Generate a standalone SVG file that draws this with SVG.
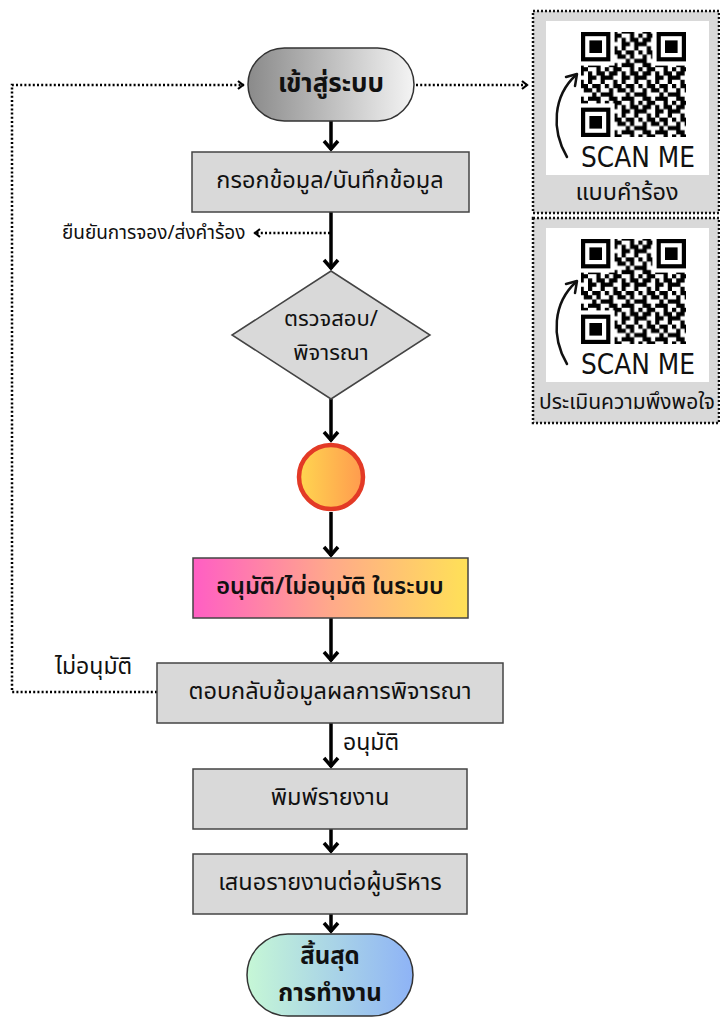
<svg xmlns="http://www.w3.org/2000/svg" width="720" height="1018" viewBox="0 0 720 1018">
<style>
text{font-family:"Noto Sans Thai","Noto Sans","DejaVu Sans",sans-serif;fill:#111;text-anchor:middle;dominant-baseline:central}
.box{fill:#d9d9d9;stroke:#444;stroke-width:1.5}
.lbl{font-size:23.5px}
.bold{font-weight:bold;font-size:24px}
.side{font-size:19px;text-anchor:start}
.solid{stroke:#000;stroke-width:3.5;fill:none;marker-end:url(#ah)}
.dot{stroke:#000;stroke-width:2.5;stroke-dasharray:2 2.2;fill:none}
.qrbox{fill:#d9d9d9;stroke:#111;stroke-width:2.5;stroke-dasharray:2 2}
.scan{font-family:"DejaVu Sans Condensed","DejaVu Sans",sans-serif;font-size:29px;font-weight:normal}
</style>
<defs>
<marker id="ah" markerUnits="userSpaceOnUse" markerWidth="20" markerHeight="20" refX="1" refY="0" viewBox="-12 -10 16 20" orient="auto">
<path d="M-8,-7 L0,0 L-8,7" fill="none" stroke="#000" stroke-width="3.5"/>
</marker>
<marker id="dh" markerUnits="userSpaceOnUse" markerWidth="12" markerHeight="12" refX="1" refY="0" viewBox="-8 -6 10 12" orient="auto">
<path d="M-5,-4 L0,0 L-5,4" fill="none" stroke="#000" stroke-width="2.2"/>
</marker>
<linearGradient id="gStart" x1="0" y1="0" x2="1" y2="0"><stop offset="0" stop-color="#8a8a8a"/><stop offset="1" stop-color="#f4f4f4"/></linearGradient>
<linearGradient id="gEnd" x1="0" y1="0" x2="1" y2="0"><stop offset="0" stop-color="#c6f7d6"/><stop offset="1" stop-color="#8eb3f6"/></linearGradient>
<linearGradient id="gBar" x1="0" y1="0" x2="1" y2="0"><stop offset="0" stop-color="#ff5ec4"/><stop offset="0.5" stop-color="#ffa98a"/><stop offset="1" stop-color="#ffe157"/></linearGradient>
<linearGradient id="gCirc" x1="0" y1="0" x2="1" y2="0"><stop offset="0" stop-color="#ffd650"/><stop offset="1" stop-color="#ff9a4e"/></linearGradient>
<pattern id="qrp" patternUnits="userSpaceOnUse" width="33.6" height="33.6">
<path transform="scale(4.2)" fill="#000" d="M0 0h1v1h-1z M2 0h2v1h-2z M6 0h1v1h-1z M1 1h2v1h-2z M4 1h1v1h-1z M6 1h2v1h-2z M0 2h2v1h-2z M4 2h2v1h-2z M7 2h1v1h-1z M2 3h1v1h-1z M4 3h1v1h-1z M7 3h1v1h-1z M0 4h1v1h-1z M2 4h2v1h-2z M5 4h2v1h-2z M1 5h1v1h-1z M3 5h2v1h-2z M6 5h1v1h-1z M0 6h2v1h-2z M5 6h1v1h-1z M7 6h1v1h-1z M1 7h2v1h-2z M4 7h3v1h-3z"/>
</pattern>
<g id="qr">
<rect x="546" y="21" width="163" height="154" fill="#fff"/>
<rect x="581" y="32" width="105" height="105" fill="url(#qrp)"/>
<rect x="581" y="32" width="33.6" height="33.6" fill="#fff"/>
<rect x="581" y="32" width="29.4" height="29.4" fill="#000"/>
<rect x="585.2" y="36.2" width="21" height="21" fill="#fff"/>
<rect x="589.4" y="40.4" width="12.6" height="12.6" fill="#000"/>
<rect x="652.4" y="32" width="33.6" height="33.6" fill="#fff"/>
<rect x="656.6" y="32" width="29.4" height="29.4" fill="#000"/>
<rect x="660.8" y="36.2" width="21" height="21" fill="#fff"/>
<rect x="665" y="40.4" width="12.6" height="12.6" fill="#000"/>
<rect x="581" y="103.4" width="33.6" height="33.6" fill="#fff"/>
<rect x="581" y="107.6" width="29.4" height="29.4" fill="#000"/>
<rect x="585.2" y="111.8" width="21" height="21" fill="#fff"/>
<rect x="589.4" y="116" width="12.6" height="12.6" fill="#000"/>
<path d="M567 157 C551 130 553 96 576 75" fill="none" stroke="#111" stroke-width="2.5" stroke-linecap="round"/>
<path d="M566 77 L577 74 L575 86" fill="none" stroke="#111" stroke-width="2.5" stroke-linecap="round" stroke-linejoin="round"/>
<text class="scan" x="638" y="157" textLength="114" lengthAdjust="spacingAndGlyphs">SCAN ME</text>
</g>
</defs>

<g id="connectors">
<line class="solid" x1="331" y1="121" x2="331" y2="150"/>
<line class="solid" x1="331" y1="212" x2="331" y2="269"/>
<line class="solid" x1="331" y1="399" x2="331" y2="441"/>
<line class="solid" x1="331" y1="512" x2="331" y2="556"/>
<line class="solid" x1="331" y1="618" x2="331" y2="661"/>
<line class="solid" x1="331" y1="723" x2="331" y2="767"/>
<line class="solid" x1="331" y1="829" x2="331" y2="852"/>
<line class="solid" x1="331" y1="914" x2="331" y2="932"/>
<path class="dot" d="M330 233 H254" marker-end="url(#dh)"/>
<path class="dot" d="M157 692 H12 V85 H244" marker-end="url(#dh)"/>
<path class="dot" d="M416 85 H528" marker-end="url(#dh)"/>
<text class="side" x="62" y="233">ยืนยันการจอง/ส่งคำร้อง</text>
<text class="side" x="55" y="667" style="font-size:23px">ไม่อนุมัติ</text>
<text class="side" x="343" y="743" style="font-size:23px">อนุมัติ</text>
</g>

<g id="start">
<rect x="248" y="48" width="166" height="73" rx="36.5" fill="url(#gStart)" stroke="#333" stroke-width="1.5"/>
<text class="bold" x="331" y="84" style="font-size:26px">เข้าสู่ระบบ</text>
</g>
<g id="input">
<rect class="box" x="192" y="152" width="277" height="60"/>
<text class="lbl" x="330" y="181">กรอกข้อมูล/บันทึกข้อมูล</text>
</g>
<g id="review">
<polygon class="box" points="331,271 430,335 331,399 232,335"/>
<text class="lbl" x="331" y="319" style="font-size:22px">ตรวจสอบ/</text>
<text class="lbl" x="331" y="353" style="font-size:22px">พิจารณา</text>
</g>
<g id="connector-circle">
<circle cx="331" cy="477" r="32" fill="url(#gCirc)" stroke="#e33a26" stroke-width="4.5"/>
</g>
<g id="approve">
<rect x="193" y="558" width="275" height="60" fill="url(#gBar)" stroke="#444" stroke-width="1.5"/>
<text class="lbl" x="330" y="587" style="font-weight:600">อนุมัติ/ไม่อนุมัติ ในระบบ</text>
</g>
<g id="reply">
<rect class="box" x="157" y="663" width="346" height="60"/>
<text class="lbl" x="330" y="692">ตอบกลับข้อมูลผลการพิจารณา</text>
</g>
<g id="print">
<rect class="box" x="193" y="769" width="274" height="60"/>
<text class="lbl" x="330" y="798">พิมพ์รายงาน</text>
</g>
<g id="present">
<rect class="box" x="193" y="854" width="274" height="60"/>
<text class="lbl" x="330" y="883">เสนอรายงานต่อผู้บริหาร</text>
</g>
<g id="end">
<rect x="247" y="934" width="166" height="82" rx="41" fill="url(#gEnd)" stroke="#333" stroke-width="1.5"/>
<text class="bold" x="330" y="957">สิ้นสุด</text>
<text class="bold" x="330" y="994">การทำงาน</text>
</g>
<g id="qr-request">
<rect class="qrbox" x="533" y="11" width="186" height="202"/>
<use href="#qr"/>
<text class="lbl" x="627" y="193">แบบคำร้อง</text>
</g>
<g id="qr-satisfaction">
<rect class="qrbox" x="533" y="218" width="186" height="205"/>
<use href="#qr" transform="translate(0,207)"/>
<text class="lbl" x="627" y="402" style="font-size:21px">ประเมินความพึงพอใจ</text>
</g>
</svg>
